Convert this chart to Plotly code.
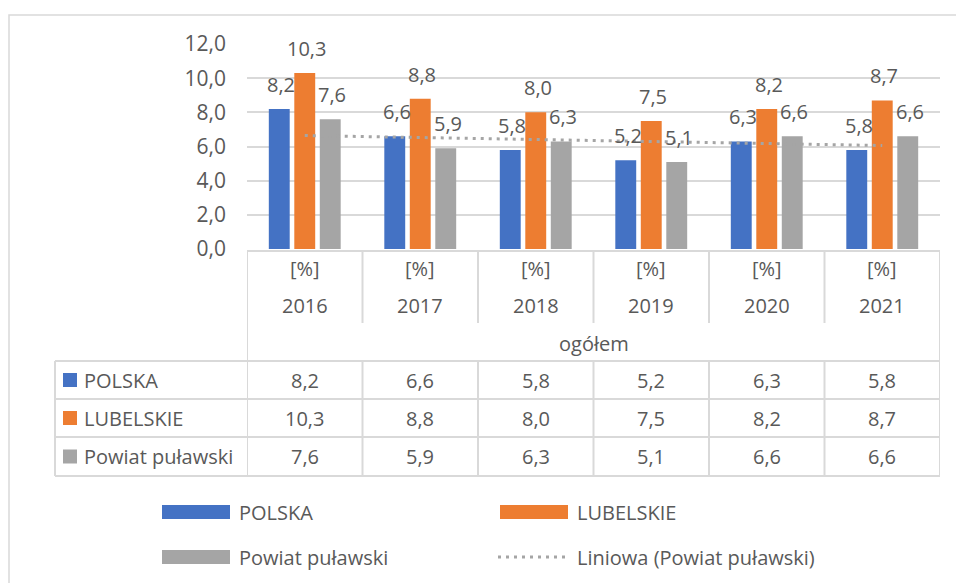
import numpy as np
import plotly.graph_objects as go

# ---------------- data ----------------
years = ["2016", "2017", "2018", "2019", "2020", "2021"]
unit_label = "[%]"
group_label = "ogółem"
series_names = ["POLSKA", "LUBELSKIE", "Powiat puławski"]
polska = [8.2, 6.6, 5.8, 5.2, 6.3, 5.8]
lubelskie = [10.3, 8.8, 8.0, 7.5, 8.2, 8.7]
powiat = [7.6, 5.9, 6.3, 5.1, 6.6, 6.6]
trend_name = "Liniowa (Powiat puławski)"
y_ticks = [0, 2, 4, 6, 8, 10, 12]

series_values = [polska, lubelskie, powiat]
colors = ["#4472C4", "#ED7D31", "#A5A5A5"]
TXT = "#595959"
GRID = "#D9D9D9"
FONT = "Open Sans"
FS = 20

W, H = 956, 583
L, R, T, B = 247, 940, 44, 249          # plot area in pixels
BARGAP = 0.338
BARGROUPGAP = 0.18


def px(x):
    return x / W


def py(y):
    return 1 - y / H


def fmt(v):
    return f"{v:.1f}".replace(".", ",")


def tfont():
    return dict(size=FS, color=TXT, family=FONT)


fig = go.Figure()

for name, vals, col in zip(series_names, series_values, colors):
    fig.add_trace(go.Bar(x=years, y=vals, name=name, marker_color=col,
                         marker_line_width=0, showlegend=False))

# linear trendline for Powiat puławski
xi = np.arange(1, len(years) + 1)
coef = np.polyfit(xi, powiat, 1)
trend = np.polyval(coef, xi)
fig.add_trace(go.Scatter(x=years, y=trend, mode="lines", name=trend_name,
                         line=dict(color="#A5A5A5", width=3, dash="3px,5px"),
                         showlegend=False, hoverinfo="skip"))

annotations = []
shapes = []
n = len(years)

# data labels above bars
slot = (1 - BARGAP) / len(series_names)     # in category units
for j, vals in enumerate(series_values):
    for i, v in enumerate(vals):
        annotations.append(dict(x=i + (j - 1) * slot, y=v, xref="x", yref="y", text=fmt(v),
                                showarrow=False, xanchor="center", yanchor="bottom",
                                xshift=2, yshift=9, font=tfont()))

# ---------------- data table ----------------
line = dict(color=GRID, width=2)
TAB_TOP, HDR_BOT = 251, 323
row_bounds = [361, 399, 437, 476]
LEFT_COL = 55

shapes.append(dict(type="line", xref="paper", yref="paper", x0=px(L), x1=px(R),
                   y0=py(TAB_TOP), y1=py(TAB_TOP), line=line))
for yb in row_bounds:
    shapes.append(dict(type="line", xref="paper", yref="paper", x0=px(LEFT_COL), x1=px(R),
                       y0=py(yb), y1=py(yb), line=line))
for k in range(n + 1):
    xk = k - 0.5
    if k == 0 or k == n:
        shapes.append(dict(type="line", xref="x", yref="paper", x0=xk, x1=xk,
                           y0=py(TAB_TOP), y1=py(row_bounds[-1]), line=line))
    else:
        shapes.append(dict(type="line", xref="x", yref="paper", x0=xk, x1=xk,
                           y0=py(TAB_TOP), y1=py(HDR_BOT), line=line))
        shapes.append(dict(type="line", xref="x", yref="paper", x0=xk, x1=xk,
                           y0=py(row_bounds[0]), y1=py(row_bounds[-1]), line=line))
shapes.append(dict(type="line", xref="paper", yref="paper", x0=px(LEFT_COL), x1=px(LEFT_COL),
                   y0=py(row_bounds[0]), y1=py(row_bounds[-1]), line=line))

for i, yr in enumerate(years):
    annotations.append(dict(x=i, y=py(268), xref="x", yref="paper", text=unit_label,
                            showarrow=False, xanchor="center", yanchor="middle", font=tfont()))
    annotations.append(dict(x=i, y=py(305), xref="x", yref="paper", text=yr,
                            showarrow=False, xanchor="center", yanchor="middle", font=tfont()))
annotations.append(dict(x=px((L + R) / 2), y=py(343), xref="paper", yref="paper",
                        text=group_label, showarrow=False, xanchor="center",
                        yanchor="middle", font=tfont()))

for r, (name, vals, col) in enumerate(zip(series_names, series_values, colors)):
    yc = (row_bounds[r] + row_bounds[r + 1]) / 2
    shapes.append(dict(type="rect", xref="paper", yref="paper", x0=px(63), x1=px(77),
                       y0=py(yc - 7), y1=py(yc + 7), fillcolor=col, line=dict(width=0)))
    annotations.append(dict(x=px(82), y=py(yc), xref="paper", yref="paper", text=name,
                            xanchor="left", yanchor="middle", showarrow=False, font=tfont()))
    for i, v in enumerate(vals):
        annotations.append(dict(x=i, y=py(yc), xref="x", yref="paper", text=fmt(v),
                                showarrow=False, xanchor="center", yanchor="middle",
                                font=tfont()))

# ---------------- legend ----------------
legend_items = [
    (series_names[0], colors[0], 162, 512, "bar"),
    (series_names[1], colors[1], 500, 512, "bar"),
    (series_names[2], colors[2], 162, 557, "bar"),
    (trend_name, "#A5A5A5", 500, 557, "line"),
]
for name, col, x0, yc, kind in legend_items:
    if kind == "bar":
        shapes.append(dict(type="rect", xref="paper", yref="paper", x0=px(x0), x1=px(x0 + 68),
                           y0=py(yc - 7), y1=py(yc + 7), fillcolor=col, line=dict(width=0)))
    else:
        shapes.append(dict(type="line", xref="paper", yref="paper", x0=px(x0 - 2), x1=px(x0 + 68),
                           y0=py(yc), y1=py(yc),
                           line=dict(color=col, width=3, dash="3px,5px")))
    annotations.append(dict(x=px(x0 + 75), y=py(yc), xref="paper", yref="paper", text=name,
                            xanchor="left", yanchor="middle", showarrow=False, font=tfont()))

# outer chart border
shapes.append(dict(type="rect", xref="paper", yref="paper", x0=px(9), x1=px(W + 10),
                   y0=py(15), y1=py(H + 10), line=dict(color=GRID, width=1.5),
                   fillcolor="rgba(0,0,0,0)", layer="below"))

fig.update_layout(
    width=W, height=H,
    margin=dict(l=0, r=0, t=0, b=0, autoexpand=False),
    paper_bgcolor="white", plot_bgcolor="white",
    barmode="group", bargap=BARGAP, bargroupgap=BARGROUPGAP,
    separators=", ",
    showlegend=False,
    font=dict(family=FONT, size=FS, color=TXT),
    xaxis=dict(type="category", domain=[px(L), px(R)], range=[-0.5, n - 0.5],
               showticklabels=False, showgrid=False, zeroline=False, showline=False,
               fixedrange=True),
    yaxis=dict(domain=[py(B), py(T)], range=[0, 12], tickvals=y_ticks, tickformat=".1f",
               showgrid=True, gridcolor=GRID, gridwidth=1.5, zeroline=False,
               showline=False, ticks="", ticklabelstandoff=20,
               tickfont=dict(size=21, color=TXT, family=FONT)),
    shapes=shapes,
    annotations=annotations,
)

fig.write_html("out.html", config={"displayModeBar": False},
               post_script="document.body.style.margin='0';document.body.style.overflow='hidden';")
